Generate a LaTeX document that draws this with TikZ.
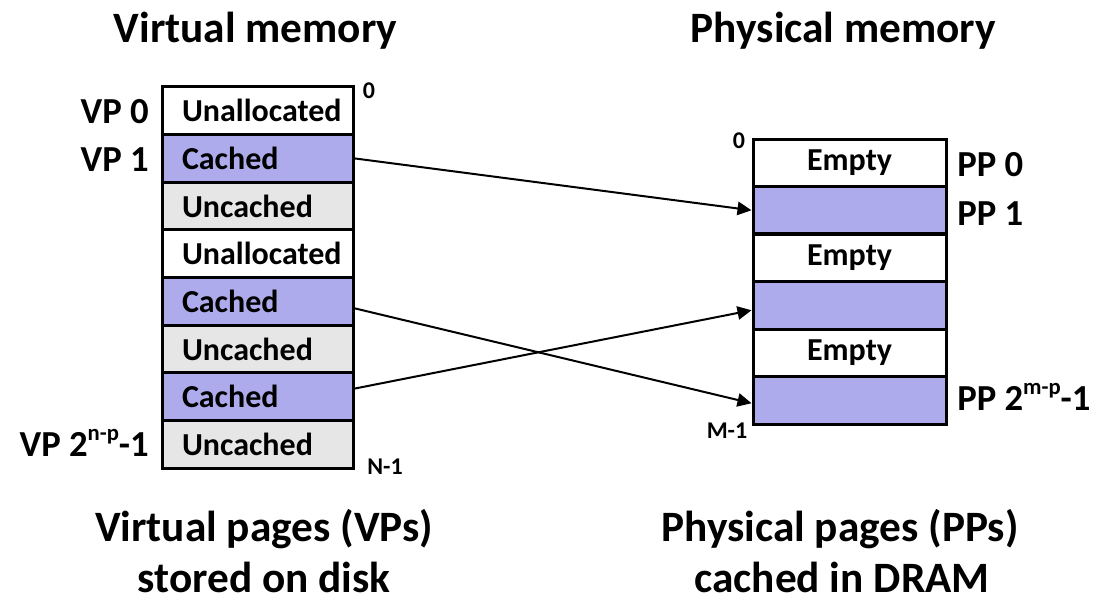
\documentclass[tikz,border=0pt]{standalone}
\usepackage{fontspec}
\setmainfont{Carlito}
\usetikzlibrary{arrows.meta,calc}
\definecolor{cachedfill}{RGB}{173,171,235}
\definecolor{uncachedfill}{RGB}{230,230,230}
\tikzset{
  vcell/.style={draw=black, line width=2.25pt, minimum height=35.72pt,
    text width=113.25pt, inner xsep=15pt, inner ysep=0pt, align=left,
    font=\fontsize{24}{28}\selectfont\bfseries},
  pcell/.style={draw=black, line width=2.25pt, minimum height=35.62pt,
    minimum width=144.75pt, inner sep=0pt,
    font=\fontsize{24}{28}\selectfont\bfseries},
  cached/.style={fill=cachedfill},
  uncached/.style={fill=uncachedfill},
  unalloc/.style={fill=white},
  lbl/.style={inner sep=0pt, font=\fontsize{27.5}{32}\selectfont\bfseries},
  small/.style={inner sep=0pt, font=\fontsize{18}{20}\selectfont\bfseries},
  title/.style={inner sep=0pt, anchor=base, font=\fontsize{32.5}{38}\selectfont\bfseries},
  map/.style={line width=1.5pt, -{Triangle[length=10.5pt,width=10pt]}}
}
\newcommand{\supx}[1]{\raisebox{0.42em}{\fontsize{17}{18}\selectfont #1}}
\begin{document}
\begin{tikzpicture}[x=0.75pt,y=-0.75pt]
\useasboundingbox (0,0) rectangle (1096,603);
% titles
\node[title] (tv) at (255.5,42) {Virtual memory};
\node[title] (tp) at (843.5,42) {Physical memory};
% virtual memory cells
\node[vcell,unalloc]  (v0) at (257.5,110.8) {Unallocated};
\node[vcell,cached]   (v1) at (257.5,158.4) {Cached};
\node[vcell,uncached] (v2) at (257.5,206.1) {Uncached};
\node[vcell,unalloc]  (v3) at (257.5,253.7) {Unallocated};
\node[vcell,cached]   (v4) at (257.5,301.3) {Cached};
\node[vcell,uncached] (v5) at (257.5,349.0) {Uncached};
\node[vcell,cached]   (v6) at (257.5,396.6) {Cached};
\node[vcell,uncached] (v7) at (257.5,444.2) {Uncached};
% physical memory cells
\node[pcell,unalloc] (p0) at (849.5,162.75) {Empty};
\node[pcell,cached]  (p1) at (849.5,210.25) {};
\node[pcell,unalloc] (p2) at (849.5,257.75) {Empty};
\node[pcell,cached]  (p3) at (849.5,305.25) {};
\node[pcell,unalloc] (p4) at (849.5,352.75) {Empty};
\node[pcell,cached]  (p5) at (849.5,400.25) {};
% labels
\node[lbl,anchor=east] (lv0) at (149,112) {VP 0};
\node[lbl,anchor=east] (lv1) at (149,159.5) {VP 1};
\node[lbl,anchor=east] (lv7) at (149,443) {VP 2\supx{n-p}-1};
\node[small] (z0) at (369,91) {0};
\node[small] (zn) at (385,467) {N-1};
\node[small] (pz0) at (739,141) {0};
\node[small] (pzm) at (727,431) {M-1};
\node[lbl,anchor=west] (lp0) at (957,164.5) {PP 0};
\node[lbl,anchor=west] (lp1) at (957,214) {PP 1};
\node[lbl,anchor=west] (lp5) at (957,397) {PP 2\supx{m-p}-1};
% bottom captions
\node[title] (bv1) at (264,541) {Virtual pages (VPs)};
\node[title] (bv2) at (264,592) {stored on disk};
\node[title] (bp1) at (840,541) {Physical pages (PPs)};
\node[title] (bp2) at (842,592) {cached in DRAM};
% mappings
\draw[map] (v1.east) -- (p1.west);
\draw[map] ($(v4.east)+(0,7)$) -- ($(p5.west)+(0,3)$);
\draw[map] ($(v6.east)+(0,-8)$) -- ($(p3.west)+(0,5)$);
\end{tikzpicture}
\end{document}
